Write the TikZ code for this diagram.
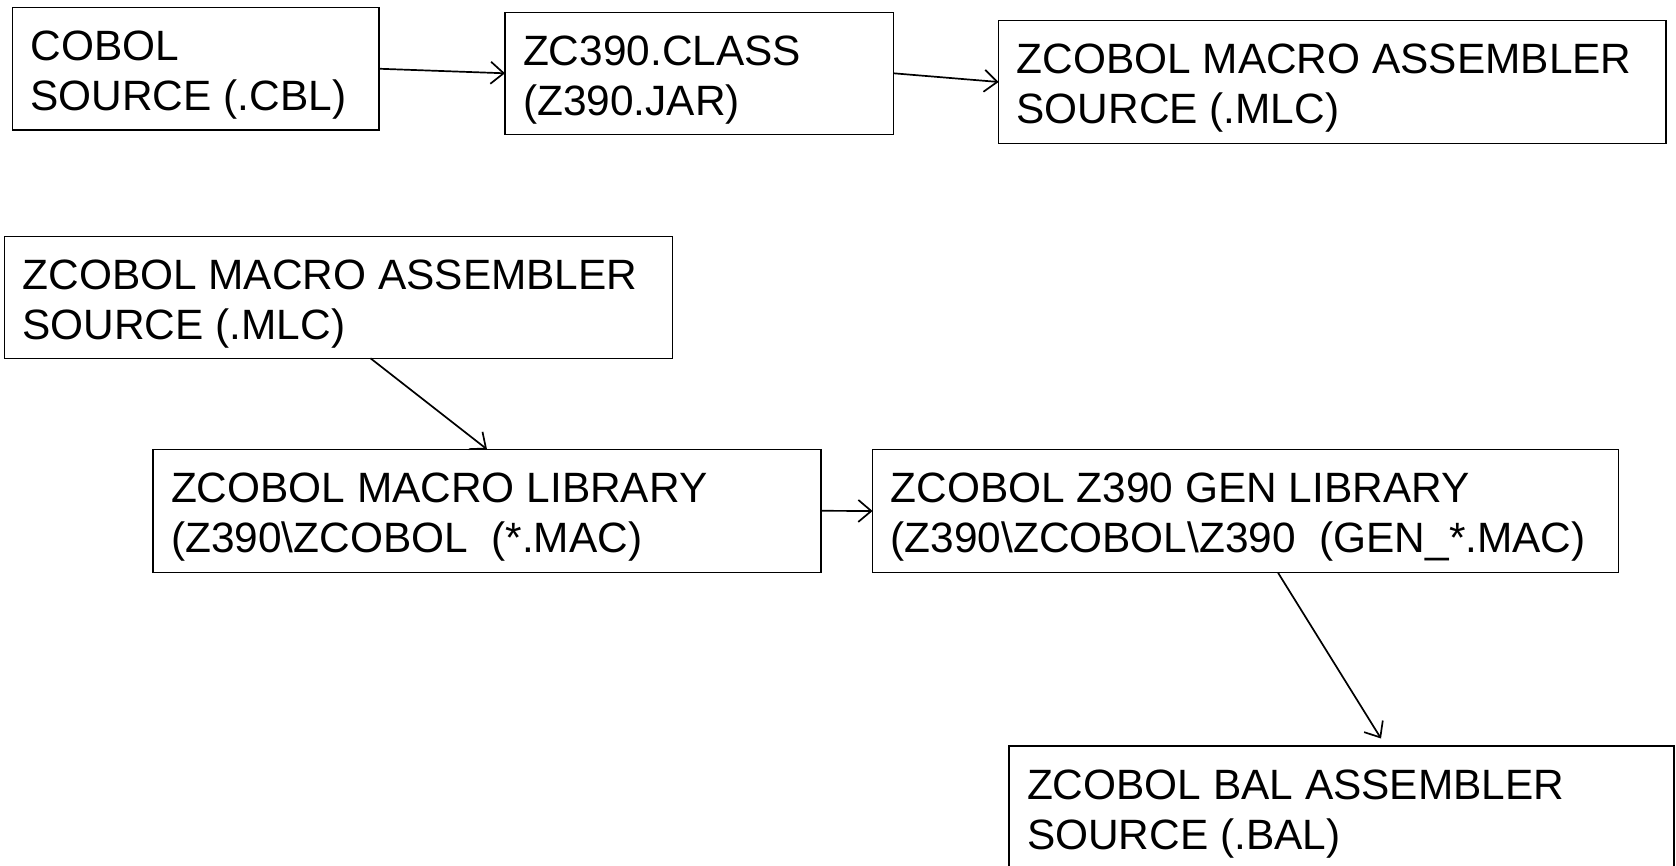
\documentclass[tikz,border=0pt]{standalone}
\usepackage{fontspec}
\setmainfont{Liberation Sans}
\usetikzlibrary{arrows.meta}
\begin{document}
\begin{tikzpicture}[x=1pt,y=-1pt,
  box/.style={draw, line width=1.5pt, inner sep=0pt, outer sep=0pt, anchor=north west},
  lbl/.style={inner sep=0pt, outer sep=0pt, anchor=base west, font=\fontsize{42.4}{48}\selectfont},
  conn/.style={line width=1.7pt, -{Straight Barb[length=13pt,width=22pt,line width=1.7pt]}}]
\useasboundingbox (0,0) rectangle (1676,866);
\clip (0,0) rectangle (1676,866);
% boxes
\node[box, minimum width=366.5pt, minimum height=122.5pt] (b1) at (12.5,7.5) {};
\node[box, minimum width=388.6pt, minimum height=122pt] (b2) at (505,12.3) {};
\node[box, minimum width=667.2pt, minimum height=122.6pt] (b3) at (998.6,20.7) {};
\node[box, minimum width=668pt, minimum height=121.6pt] (b4) at (4.5,236.7) {};
\node[box, minimum width=668pt, minimum height=123pt] (b5) at (153,449.3) {};
\node[box, minimum width=745.8pt, minimum height=123.4pt] (b6) at (872.6,449.3) {};
\node[box, minimum width=665pt, minimum height=200pt] (b7) at (1009,746) {};
% texts
\node[lbl] (t1a) at ([xshift=18pt,yshift=-53pt]b1.north west) {COBOL};
\node[lbl] (t1b) at ([xshift=18pt,yshift=-103pt]b1.north west) {SOURCE (.CBL)};
\node[lbl] (t2a) at ([xshift=18pt,yshift=-53pt]b2.north west) {ZC390.CLASS};
\node[lbl] (t2b) at ([xshift=18pt,yshift=-103pt]b2.north west) {(Z390.JAR)};
\node[lbl] (t3a) at ([xshift=18pt,yshift=-53pt]b3.north west) {ZCOBOL MACRO ASSEMBLER};
\node[lbl] (t3b) at ([xshift=18pt,yshift=-103pt]b3.north west) {SOURCE (.MLC)};
\node[lbl] (t4a) at ([xshift=18pt,yshift=-53pt]b4.north west) {ZCOBOL MACRO ASSEMBLER};
\node[lbl] (t4b) at ([xshift=18pt,yshift=-103pt]b4.north west) {SOURCE (.MLC)};
\node[lbl] (t5a) at ([xshift=18pt,yshift=-53pt]b5.north west) {ZCOBOL MACRO LIBRARY};
\node[lbl] (t5b) at ([xshift=18pt,yshift=-103pt]b5.north west) {(Z390\textbackslash ZCOBOL\ \ (*.MAC)};
\node[lbl] (t6a) at ([xshift=18pt,yshift=-53pt]b6.north west) {ZCOBOL Z390 GEN LIBRARY};
\node[lbl] (t6b) at ([xshift=18pt,yshift=-103pt]b6.north west) {(Z390\textbackslash ZCOBOL\textbackslash Z390\ \ (GEN\_*.MAC)};
\node[lbl] (t7a) at ([xshift=18pt,yshift=-53pt]b7.north west) {ZCOBOL BAL ASSEMBLER};
\node[lbl] (t7b) at ([xshift=18pt,yshift=-103pt]b7.north west) {SOURCE (.BAL)};
% connector end points
\coordinate (a3s) at ([xshift=32pt]b4.south);
\coordinate (a5s) at ([xshift=32.5pt]b6.south);
\coordinate (a5e) at ([xshift=39.5pt,yshift=7.5pt]b7.north);
% connectors
\draw[conn] (b1.east) -- (b2.west);
\draw[conn] (b2.east) -- (b3.west);
\draw[conn] (a3s) -- (b5.north);
\draw[conn] (b5.east) -- (b6.west);
\draw[conn] (a5s) -- (a5e);
\end{tikzpicture}
\end{document}
